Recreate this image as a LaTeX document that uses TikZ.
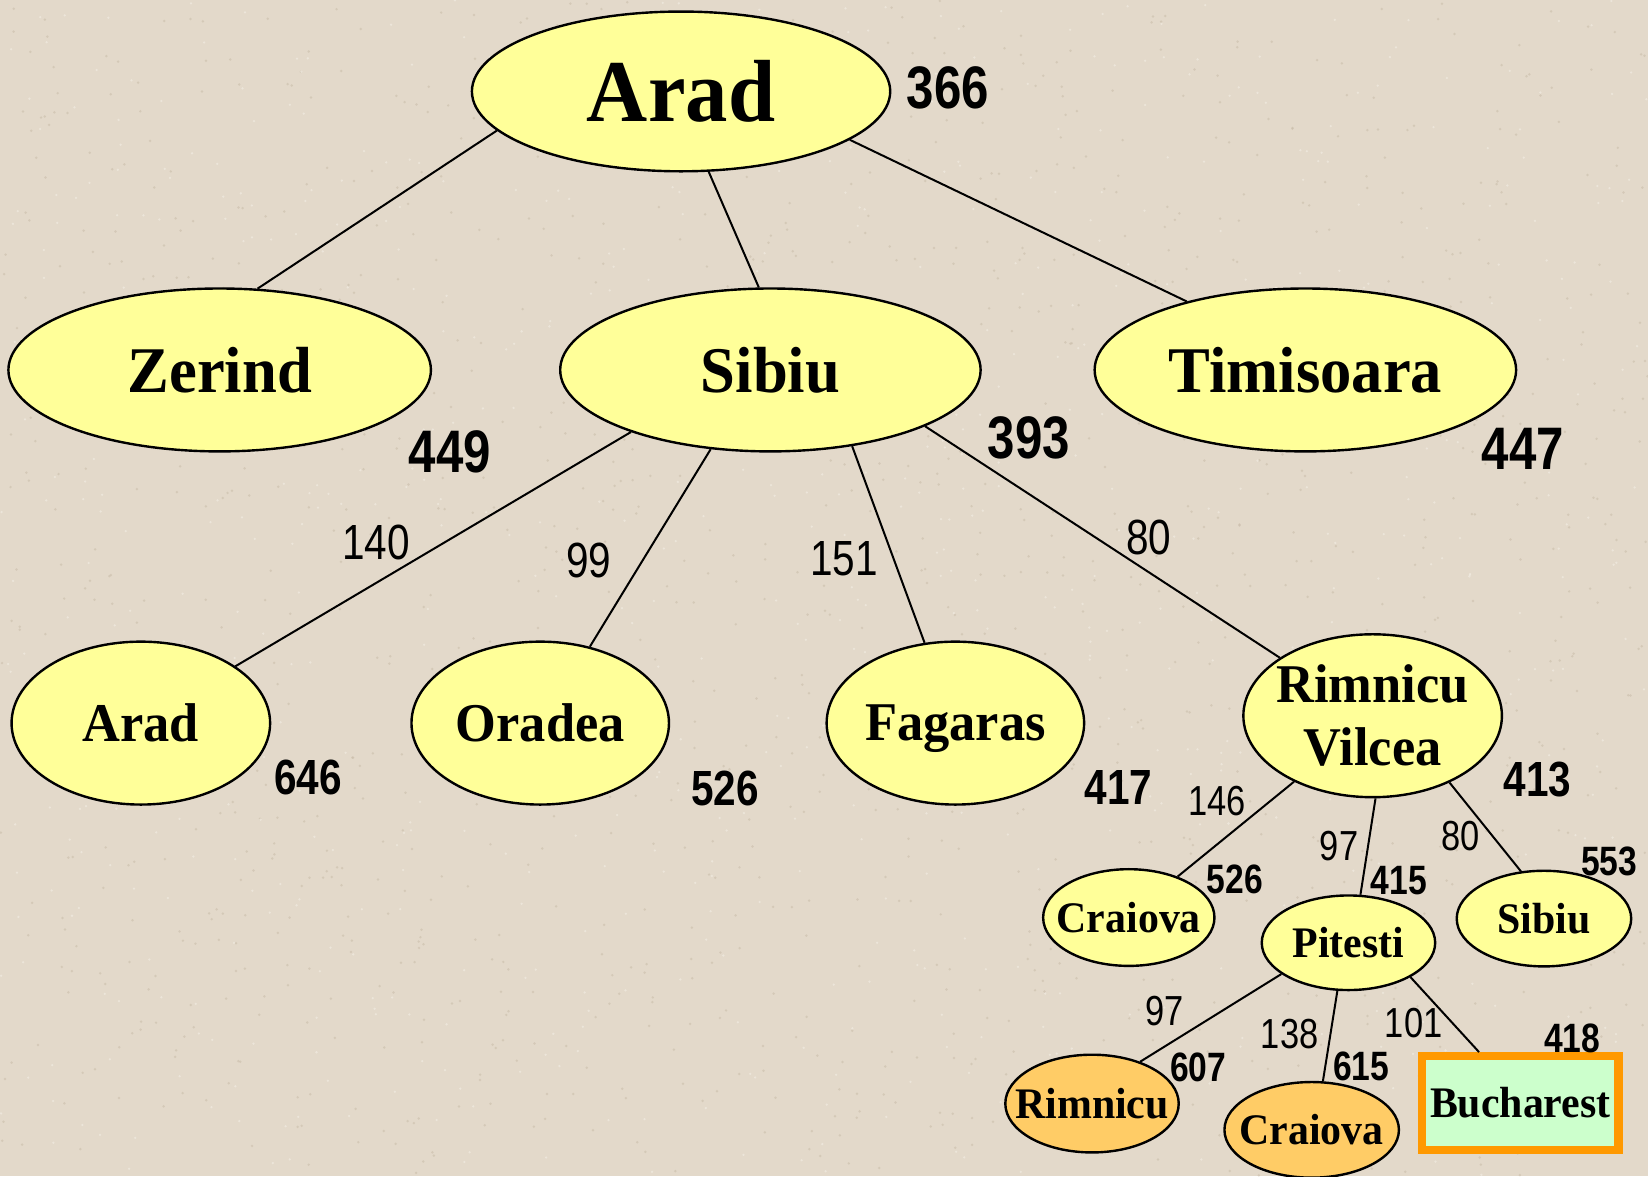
\documentclass[tikz,border=0pt]{standalone}
\usepackage{fontspec}
\usetikzlibrary{shapes.geometric}
\newfontfamily\cityfont[FakeStretch=0.96]{Liberation Serif}
\newfontfamily\numfont[FakeStretch=0.82]{Liberation Sans}
\newcommand\fsz[2]{\fontsize{#1}{#2}\selectfont}
\definecolor{paper}{HTML}{E3D9CA}
\definecolor{speckdark}{HTML}{C9BCA9}
\definecolor{specklight}{HTML}{F1EBE1}
\definecolor{cityyellow}{HTML}{FFFF99}
\definecolor{cityorange}{HTML}{FFCC66}
\definecolor{goalgreen}{HTML}{CCFFCC}
\definecolor{goalorange}{HTML}{FF9900}
\tikzset{
  esz/.style 2 args={minimum width=#1*0.5255pt, minimum height=#2*0.5255pt},
  city/.style={ellipse, draw=black, line width=1.2pt, fill=cityyellow,
    inner xsep=-14pt, inner ysep=0pt, align=center},
  visited/.style={city, fill=cityorange},
  goal/.style={rectangle, draw=goalorange, line width=4.2pt, fill=goalgreen, inner sep=0pt},
  ttop/.style={font=\cityfont\bfseries\fsz{44.1pt}{50pt}},
  tlev2/.style={font=\cityfont\bfseries\fsz{32.6pt}{38pt}},
  tlev3/.style={font=\cityfont\bfseries\fsz{27.3pt}{31.5pt}},
  tlev4/.style={font=\cityfont\bfseries\fsz{21.8pt}{25pt}},
  hbig/.style={font=\numfont\bfseries\fsz{30pt}{30pt}, inner sep=0pt},
  hmid/.style={font=\numfont\bfseries\fsz{24.7pt}{25pt}, inner sep=0pt},
  hsmall/.style={font=\numfont\bfseries\fsz{20.5pt}{21pt}, inner sep=0pt},
  cbig/.style={font=\numfont\fsz{24.7pt}{25pt}, inner sep=0pt},
  csmall/.style={font=\numfont\fsz{21pt}{21pt}, inner sep=0pt},
  link/.style={line width=1pt, draw=black}
}
\begin{document}
\begin{tikzpicture}[x=0.5255pt, y=-0.5255pt]
% paper background with a light speckled grain
\fill[paper] (0,0) rectangle (1568,1119);
\useasboundingbox (0,0) rectangle (1568,1119);
\pgfmathsetseed{4711}
\foreach \i in {1,...,1400} {
  \fill[speckdark, opacity=0.55] ({rnd*1568},{rnd*1119}) circle (1.3);
}
\foreach \i in {1,...,900} {
  \fill[specklight, opacity=0.7] ({rnd*1568},{rnd*1119}) circle (1.2);
}

% search tree nodes
\node[city, ttop, esz={398}{152}] (arad0) at (648,87) {Arad};

\node[city, tlev2, esz={402}{155}] (zerind) at (209,352) {Zerind};
\node[city, tlev2, esz={400}{155}] (sibiu1) at (733,352) {Sibiu};
\node[city, tlev2, esz={401}{155}] (timis) at (1242,352) {Timisoara};

\node[city, tlev3, esz={246}{155}] (arad1) at (134,688) {Arad};
\node[city, tlev3, esz={245}{155}] (oradea) at (514,688) {Oradea};
\node[city, tlev3, esz={245}{155}, text depth=0pt] (fagaras) at (909,688) {Fagaras};
\node[city, tlev3, esz={246}{155}] (rv) at (1306,681) {Rimnicu\\Vilcea};

\node[city, tlev4, esz={163}{92}] (craiova1) at (1074,873) {Craiova};
\node[city, tlev4, esz={165}{90}] (pitesti) at (1283,897) {Pitesti};
\node[city, tlev4, esz={166}{91}] (sibiu2) at (1469,874) {Sibiu};

\node[visited, tlev4, esz={165}{93}] (rimnicu2) at (1039,1050) {Rimnicu};
\node[visited, tlev4, esz={166}{91}] (craiova2) at (1248,1075) {Craiova};
\node[goal, tlev4, esz={187}{89}] (buch) at (1446.5,1049.5) {Bucharest};

% tree edges
\draw[link] (arad0.192.6) -- (zerind.65.8);
\draw[link] (arad0.-71.1) -- (sibiu1.98.6);
\draw[link] (arad0.-16) -- (timis.150.8);

\draw[link] (sibiu1.204.7) -- (arad1.31.4);
\draw[link] (sibiu1.233.3) -- (oradea.57);
\draw[link] (sibiu1.-43.1) -- (fagaras.111.3);
\draw[link] (sibiu1.-20.8) -- (rv.148);

\draw[link] (rv.220) -- (craiova1.40.4);
\draw[link] (rv.272.6) -- (pitesti.76.3);
\draw[link] (rv.319) -- (sibiu2.116.6);

\draw[link] (pitesti.205.6) -- (rimnicu2.41.1);
\draw[link] (pitesti.257.4) -- (craiova2.77.8);
\draw[link] (pitesti.331) -- (buch.129.2);

% heuristic values
\node[hbig] (h366) at (902,84) {366};
\node[hbig] (h449) at (428,430) {449};
\node[hbig] (h393) at (979,417) {393};
\node[hbig] (h447) at (1449,427) {447};

\node[hmid] (h646) at (293,740) {646};
\node[hmid] (h526a) at (690,750) {526};
\node[hmid] (h417) at (1064,749) {417};
\node[hmid] (h413) at (1463,742) {413};

\node[hsmall] (h526b) at (1175,837) {526};
\node[hsmall] (h415) at (1331,838) {415};
\node[hsmall] (h553) at (1531,820) {553};
\node[hsmall] (h607) at (1140,1016) {607};
\node[hsmall] (h615) at (1295,1015) {615};
\node[hsmall] (h418) at (1496,988) {418};

% step costs
\node[cbig] (c140) at (358,516) {140};
\node[cbig] (c99) at (560,533) {99};
\node[cbig] (c151) at (803,532) {151};
\node[cbig] (c80a) at (1093,511) {80};

\node[csmall] (c146) at (1158,762) {146};
\node[csmall] (c97a) at (1274,805) {97};
\node[csmall] (c80b) at (1390,795) {80};
\node[csmall] (c97b) at (1108,962) {97};
\node[csmall] (c138) at (1227,984) {138};
\node[csmall] (c101) at (1345,973) {101};
\end{tikzpicture}
\end{document}
